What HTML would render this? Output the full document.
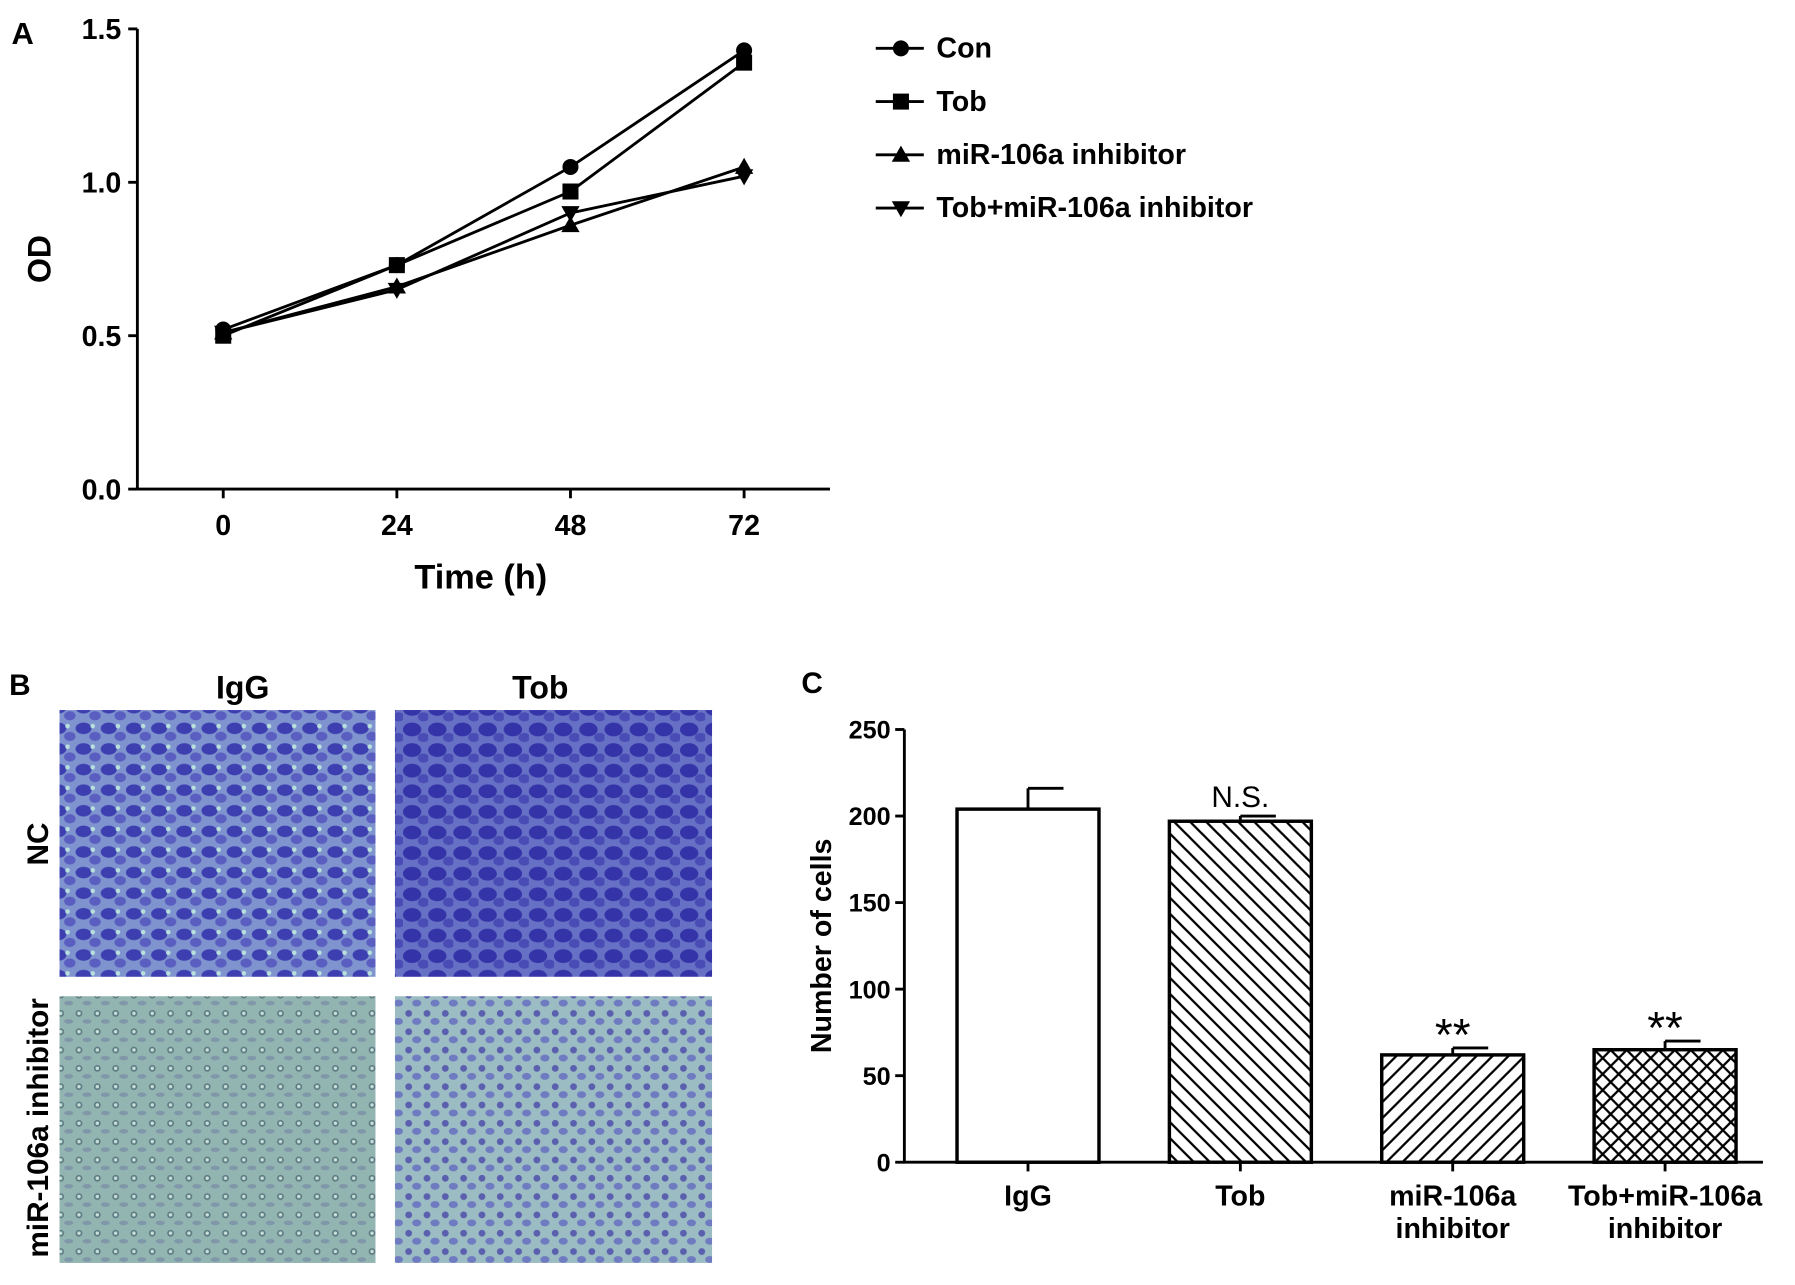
<!DOCTYPE html>
<html><head><meta charset="utf-8"><style>
html,body{margin:0;padding:0;background:#fff}
svg{display:block;font-family:"Liberation Sans",Arial,sans-serif}
</style></head><body>
<svg id="fig" width="1795" height="1285" viewBox="0 0 1568 1122" xmlns="http://www.w3.org/2000/svg">
<defs>
<pattern id="diagR" width="14" height="14" patternUnits="userSpaceOnUse"><path d="M-2,2 L2,-2 M0,14 L14,0 M12,16 L16,12" stroke="#000" stroke-width="2"/></pattern>
<pattern id="diagL" width="14" height="14" patternUnits="userSpaceOnUse"><path d="M-2,12 L2,16 M0,0 L14,14 M12,-2 L16,2" stroke="#000" stroke-width="2"/></pattern>
<pattern id="cross" width="14" height="14" patternUnits="userSpaceOnUse"><path d="M0,0 L14,14 M0,14 L14,0" stroke="#000" stroke-width="2"/></pattern>
<pattern id="cellsA" width="22" height="18" patternUnits="userSpaceOnUse"><rect width="22" height="18" fill="#7f93cf"/><ellipse cx="7" cy="6" rx="7" ry="5" fill="#3d3fb0"/><ellipse cx="17" cy="13" rx="5" ry="4" fill="#5a5ec0"/><circle cx="15" cy="4" r="2" fill="#b8e0dc"/></pattern>
<pattern id="cellsB" width="22" height="18" patternUnits="userSpaceOnUse"><rect width="22" height="18" fill="#6670c4"/><ellipse cx="8" cy="7" rx="8" ry="6" fill="#3433a8"/><ellipse cx="18" cy="14" rx="5" ry="4" fill="#4a4cb5"/></pattern>
<pattern id="cellsC" width="16" height="16" patternUnits="userSpaceOnUse"><rect width="16" height="16" fill="#93b5b2"/><circle cx="5" cy="5" r="3" fill="#5e7a82" /><circle cx="5" cy="5" r="1.5" fill="#c6e0da"/><ellipse cx="12" cy="12" rx="4" ry="2" fill="#7f97a8"/></pattern>
<pattern id="cellsD" width="16" height="16" patternUnits="userSpaceOnUse"><rect width="16" height="16" fill="#9cbcc4"/><circle cx="5" cy="5" r="3" fill="#5a5fae"/><ellipse cx="12" cy="12" rx="4" ry="3" fill="#6f7bc0"/></pattern>
</defs>
<g id="panelA"></g>
<g id="panelB">
<text x="8" y="607" font-size="26" font-weight="bold">B</text>
<text x="212" y="610" font-size="28" font-weight="bold" text-anchor="middle">IgG</text>
<text x="472" y="610" font-size="28" font-weight="bold" text-anchor="middle">Tob</text>
<text transform="translate(42,737) rotate(-90)" font-size="26" font-weight="bold" text-anchor="middle">NC</text>
<text transform="translate(42,985) rotate(-90)" font-size="26" font-weight="bold" text-anchor="middle">miR-106a inhibitor</text>
<rect x="52" y="620" width="276" height="233" fill="url(#cellsA)"/>
<rect x="345" y="620" width="277" height="233" fill="url(#cellsB)"/>
<rect x="52" y="870" width="276" height="233" fill="url(#cellsC)"/>
<rect x="345" y="870" width="277" height="233" fill="url(#cellsD)"/>
</g>
<g id="panelC"></g>
</svg>
<script>
// Panel A data
const timeCats=[0,24,48,72];
const seriesNames=["Con","Tob","miR-106a inhibitor","Tob+miR-106a inhibitor"];
const conVals=[0.52,0.73,1.05,1.43];
const tobVals=[0.50,0.73,0.97,1.39];
const inhVals=[0.51,0.66,0.86,1.05];
const tobInhVals=[0.51,0.65,0.90,1.02];
const yTicksA=[0.0,0.5,1.0,1.5];
const yTickLabelsA=["0.0","0.5","1.0","1.5"];
// Panel C data
const barCats=["IgG","Tob","miR-106a\ninhibitor","Tob+miR-106a\ninhibitor"];
const barVals=[204,197,62,65];
const barErr=[12,3,4,5];
const barSig=["","N.S.","**","**"];
const yTicksC=[0,50,100,150,200,250];

const NS="http://www.w3.org/2000/svg";
function mk(parent,tag,attrs,text){const e=document.createElementNS(NS,tag);for(const k in attrs)e.setAttribute(k,attrs[k]);if(text!==undefined)e.textContent=text;parent.appendChild(e);return e;}

// ---- Panel A
const A=document.getElementById('panelA');
const xA=t=>195+(t/72)*455;
const yA=v=>427-(v/1.5)*402;
let t=mk(A,'text',{x:10,y:38,'font-size':27,'font-weight':'bold'},'A');


let ax=mk(A,'path',{d:`M120,${yA(1.5)} L120,427 L725,427`,stroke:'#000','stroke-width':2.5,fill:'none'});


yTicksA.forEach((v,i)=>{
  mk(A,'line',{x1:112,x2:120,y1:yA(v),y2:yA(v),stroke:'#000','stroke-width':2.5});
  const l=mk(A,'text',{x:106,y:yA(v)+9,'font-size':25,'font-weight':'bold','text-anchor':'end'},yTickLabelsA[i]);
  
  
});
timeCats.forEach(c=>{
  mk(A,'line',{x1:xA(c),x2:xA(c),y1:427,y2:435,stroke:'#000','stroke-width':2.5});
  const l=mk(A,'text',{x:xA(c),y:467,'font-size':25,'font-weight':'bold','text-anchor':'middle'},String(c));
  
  
});
t=mk(A,'text',{x:420,y:514,'font-size':30,'font-weight':'bold','text-anchor':'middle'},'Time (h)');


t=mk(A,'text',{transform:'translate(44,226) rotate(-90)','font-size':28,'font-weight':'bold','text-anchor':'middle'},'OD');


function marker(g,type,x,y){
  if(type===0)return mk(g,'circle',{cx:x,cy:y,r:7,fill:'#000'});
  if(type===1)return mk(g,'rect',{x:x-7,y:y-7,width:14,height:14,fill:'#000'});
  if(type===2)return mk(g,'path',{d:`M${x},${y-8} L${x+8},${y+6} L${x-8},${y+6}Z`,fill:'#000'});
  return mk(g,'path',{d:`M${x},${y+8} L${x+8},${y-6} L${x-8},${y-6}Z`,fill:'#000'});
}
[conVals,tobVals,inhVals,tobInhVals].forEach((vals,si)=>{
  const g=mk(A,'g',{});
  
  
  mk(g,'polyline',{points:vals.map((v,i)=>xA(timeCats[i])+','+yA(v)).join(' '),fill:'none',stroke:'#000','stroke-width':2.5});
  vals.forEach((v,i)=>marker(g,si,xA(timeCats[i]),yA(v)));
  const ly=42+si*46.5;
  const lg=mk(A,'g',{});
  
  
  mk(lg,'line',{x1:765,x2:807,y1:ly,y2:ly,stroke:'#000','stroke-width':2.5});
  marker(lg,si,787,ly);
  mk(lg,'text',{x:818,y:ly+8,'font-size':25,'font-weight':'bold'},seriesNames[si]);
});

// ---- Panel C
const C=document.getElementById('panelC');
const yC=v=>1015-(v/250)*378;
const xC=i=>898+i*185.5;
t=mk(C,'text',{x:700,y:605,'font-size':26,'font-weight':'bold'},'C');


ax=mk(C,'path',{d:`M790,${yC(250)} L790,1015 L1540,1015`,stroke:'#000','stroke-width':2.5,fill:'none'});


yTicksC.forEach(v=>{
  mk(C,'line',{x1:782,x2:790,y1:yC(v),y2:yC(v),stroke:'#000','stroke-width':2.5});
  const l=mk(C,'text',{x:778,y:yC(v)+8,'font-size':22,'font-weight':'bold','text-anchor':'end'},String(v));
  
  
});
t=mk(C,'text',{transform:'translate(726,826) rotate(-90)','font-size':25,'font-weight':'bold','text-anchor':'middle'},'Number of cells');


const fills=['#fff','url(#diagL)','url(#diagR)','url(#cross)'];
barVals.forEach((v,i)=>{
  const cx=xC(i),w=124;
  const g=mk(C,'g',{});
  
  
  mk(g,'line',{x1:cx,x2:cx,y1:yC(v),y2:yC(v+barErr[i]),stroke:'#000','stroke-width':2.5});
  mk(g,'line',{x1:cx,x2:cx+31,y1:yC(v+barErr[i]),y2:yC(v+barErr[i]),stroke:'#000','stroke-width':2.5});
  mk(g,'rect',{x:cx-w/2,y:yC(v),width:w,height:yC(0)-yC(v),fill:'#fff'});
  mk(g,'rect',{x:cx-w/2,y:yC(v),width:w,height:yC(0)-yC(v),fill:fills[i],stroke:'#000','stroke-width':3});
  if(barSig[i]){
    const s=mk(C,'text',{x:cx,y:yC(v+barErr[i])-(barSig[i]==='**'?-2:8),'font-size':barSig[i]==='**'?40:26,'text-anchor':'middle'},barSig[i]);
    
    
  }
  mk(C,'line',{x1:cx,x2:cx,y1:1015,y2:1023,stroke:'#000','stroke-width':2.5});
  const lines=barCats[i].split('\n');
  lines.forEach((ln,k)=>{
    const l=mk(C,'text',{x:cx,y:1053+k*28,'font-size':25,'font-weight':'bold','text-anchor':'middle'},ln);
    
    
  });
});
</script>
</body></html>
